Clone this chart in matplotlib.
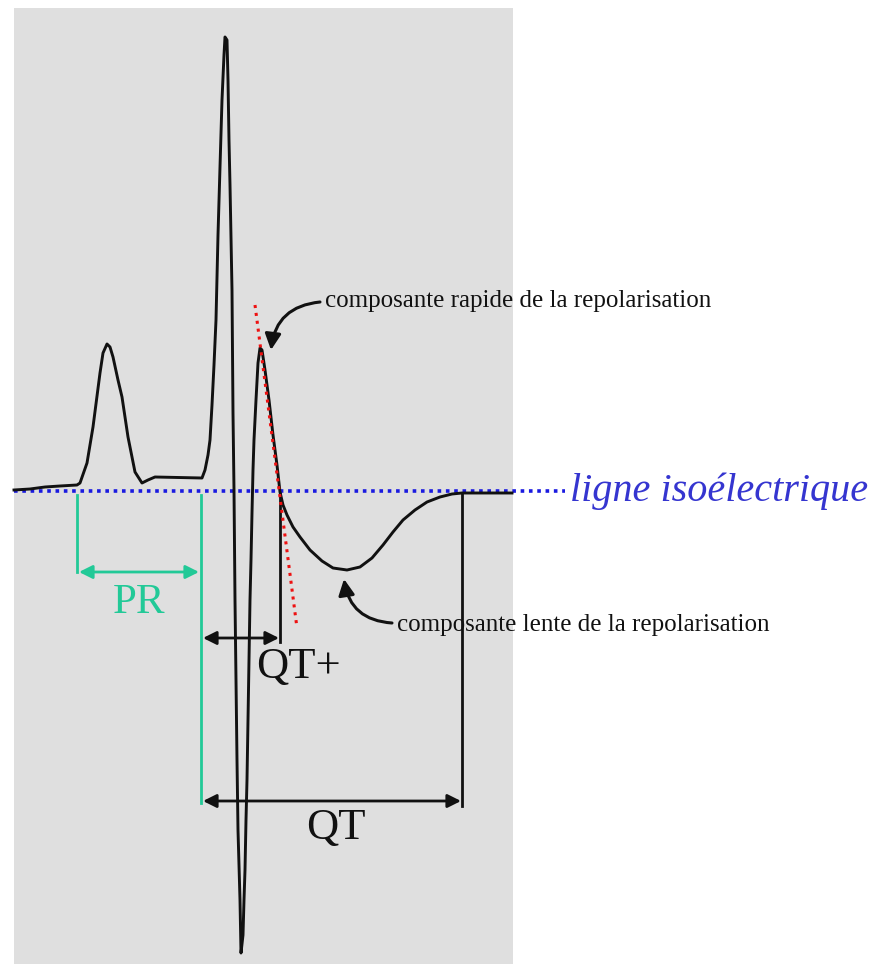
import matplotlib
matplotlib.use("Agg")
import matplotlib.pyplot as plt
from matplotlib.patches import Rectangle, FancyArrowPatch
import numpy as np

# ---- data (x = horizontal position in px, amp = height above isoelectric line in px) ----
BASE = 491
trace_x = [14, 30, 45, 60, 77, 80, 87, 93, 100, 103, 107, 110, 113, 118, 122, 128, 135, 142, 148, 155,
           202, 205, 208, 210, 212, 214, 216, 218, 220, 222, 224, 225, 227, 228, 229, 230, 232, 233, 234,
           235, 236, 237, 238, 240, 241, 243, 244, 245, 246, 247, 248, 249, 250, 251, 252, 253, 254, 256,
           258, 260, 262, 265, 269, 273, 277, 280, 283, 287, 293, 300, 310, 322, 333, 347, 360, 372, 383,
           393, 403, 415, 427, 440, 452, 462, 512]
trace_y = [490, 489, 487, 486, 485, 483, 463, 427, 373, 353, 344, 347, 357, 380, 397, 437, 472, 483, 480, 477,
           478, 470, 455, 440, 405, 365, 320, 235, 167, 100, 55, 37, 40, 80, 140, 185, 290, 413, 490,
           600, 680, 760, 830, 900, 953, 935, 900, 870, 820, 780, 720, 660, 600, 560, 513, 470, 440, 400,
           363, 348, 350, 370, 400, 435, 465, 492, 505, 515, 527, 537, 550, 561, 568, 570, 567, 558, 545,
           532, 520, 510, 502, 497, 494, 493, 493]
trace_amp = [BASE - v for v in trace_y]

tangent_x = [255, 297]
tangent_amp = [BASE - 305, BASE - 628]

pr_start, pr_end = 77, 201          # PR interval markers (px)
qt_start, qtplus_end, qt_end = 201, 280, 462

labels = {
    "iso": "ligne isoélectrique",
    "rapide": "composante rapide de la repolarisation",
    "lente": "composante lente de la repolarisation",
    "pr": "PR", "qtplus": "QT+", "qt": "QT",
}

GREEN = "#22c997"
BLUE_LINE = "#1a1ae0"
BLUE_TXT = "#3535d0"
GRAY = "#dfdfdf"
INK = "#111111"

fig = plt.figure(figsize=(8.77, 9.64), dpi=100)
ax = fig.add_axes([0, 0, 1, 1])
ax.set_xlim(0, 877)
ax.set_ylim(BASE - 964, BASE)
ax.axis("off")

def A(ypix):
    return BASE - ypix

serif = "Liberation Serif"

# gray panel
ax.add_patch(Rectangle((14, A(964)), 513 - 14, 964 - 8, facecolor=GRAY, edgecolor="none", zorder=0))

# isoelectric line
ax.plot([14, 565], [0, 0], color=BLUE_LINE, lw=2.6, linestyle=(0, (1.0, 1.3)), zorder=3)
ax.text(570, A(491), labels["iso"], color=BLUE_TXT, fontsize=29, family=serif, style="italic",
        ha="left", va="center")

# ECG trace
ax.plot(trace_x, trace_amp, color=INK, lw=2.1, zorder=4, solid_joinstyle="round")

# tangent
ax.plot(tangent_x, tangent_amp, color="#ee1111", lw=2.2, linestyle=(0, (1.0, 1.6)), zorder=5)

# PR markers (green)
ax.plot([pr_start, pr_start], [A(495), A(572)], color=GREEN, lw=2)
ax.plot([pr_end, pr_end], [A(495), A(803)], color=GREEN, lw=2)
ax.add_patch(FancyArrowPatch((pr_start + 2, A(572)), (pr_end - 2, A(572)), arrowstyle="<|-|>",
                             mutation_scale=20, color=GREEN, lw=2, shrinkA=0, shrinkB=0))
ax.text((pr_start + pr_end) / 2, A(603), labels["pr"], color=GREEN, fontsize=31, family=serif,
        ha="center", va="center")

# QT+ and QT markers (black)
ax.plot([qtplus_end, qtplus_end], [A(493), A(642)], color=INK, lw=2)
ax.plot([qt_end, qt_end], [A(493), A(806)], color=INK, lw=2)
ax.add_patch(FancyArrowPatch((qt_start + 2, A(638)), (qtplus_end - 1, A(638)), arrowstyle="<|-|>",
                             mutation_scale=20, color=INK, lw=2, shrinkA=0, shrinkB=0))
ax.add_patch(FancyArrowPatch((qt_start + 2, A(801)), (qt_end - 1, A(801)), arrowstyle="<|-|>",
                             mutation_scale=20, color=INK, lw=2, shrinkA=0, shrinkB=0))
ax.text(256, A(667), labels["qtplus"], color=INK, fontsize=32, family=serif, ha="left", va="center")
ax.text(336, A(828), labels["qt"], color=INK, fontsize=32, family=serif, ha="center", va="center")

# annotations with curved arrows
ax.text(325, A(301), labels["rapide"], color=INK, fontsize=18, family=serif, ha="left", va="center")
ax.add_patch(FancyArrowPatch((320, A(302)), (271, A(350)), arrowstyle="-|>", mutation_scale=24,
                             connectionstyle="arc3,rad=0.4", color=INK, lw=2.2,
                             shrinkA=0, shrinkB=0, zorder=6))
ax.text(397, A(625), labels["lente"], color=INK, fontsize=18, family=serif, ha="left", va="center")
ax.add_patch(FancyArrowPatch((392, A(623)), (344, A(579)), arrowstyle="-|>", mutation_scale=24,
                             connectionstyle="arc3,rad=-0.4", color=INK, lw=2.2,
                             shrinkA=0, shrinkB=0, zorder=6))

fig.savefig("out.png", dpi=100, facecolor="white")
